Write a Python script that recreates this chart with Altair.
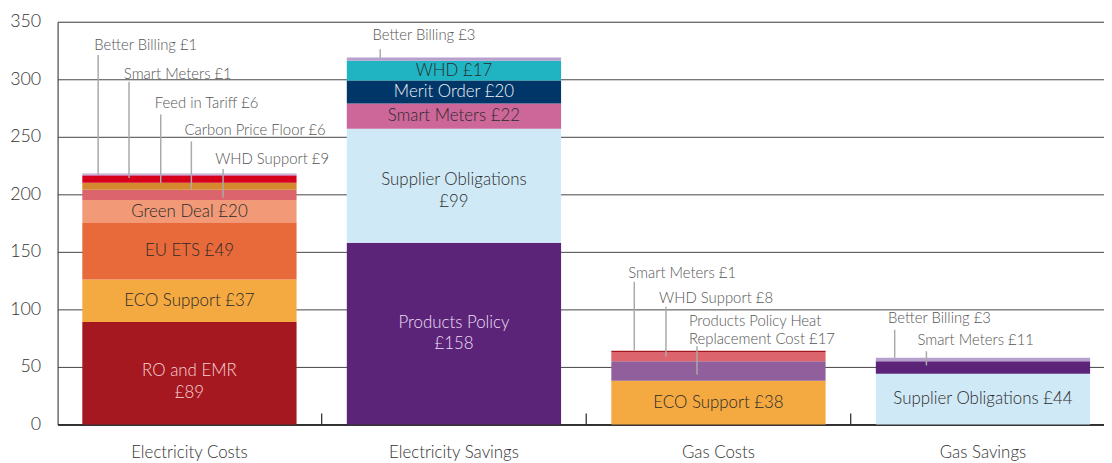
import altair as alt
import pandas as pd

# ---------------- data ----------------
categories = ["Electricity Costs", "Electricity Savings", "Gas Costs", "Gas Savings"]

ec_labels = ["RO and EMR", "ECO Support", "EU ETS", "Green Deal", "WHD Support",
             "Carbon Price Floor", "Feed in Tariff", "Smart Meters", "Better Billing"]
ec_values = [89, 37, 49, 20, 9, 6, 6, 1, 1]

es_labels = ["Products Policy", "Supplier Obligations", "Smart Meters", "Merit Order",
             "WHD", "Better Billing"]
es_values = [158, 99, 22, 20, 17, 3]

gc_labels = ["ECO Support", "Products Policy Heat Replacement Cost", "WHD Support", "Smart Meters"]
gc_values = [38, 17, 8, 1]

gs_labels = ["Supplier Obligations", "Smart Meters", "Better Billing"]
gs_values = [44, 11, 3]

y_ticks = [0, 50, 100, 150, 200, 250, 300, 350]

# ---------------- styles ----------------
seg_colors = {
    "Electricity Costs": ["#a51820", "#f4a941", "#e86a3a", "#f29a78", "#dc646c",
                          "#d5882e", "#d6001c", "#cf6c9c", "#bda3cf"],
    "Electricity Savings": ["#5b2479", "#d0e9f7", "#cd6699", "#003768", "#20b3c2", "#b7a0cd"],
    "Gas Costs": ["#f4a941", "#915f9b", "#dc646c", "#a51820"],
    "Gas Savings": ["#d0e9f7", "#5b2479", "#b7a0cd"],
}
DARK = "#2b2b2b"
inside = {  # (category, label) -> (two lines?, text colour, label shift in y units)
    ("Electricity Costs", "RO and EMR"): (True, "#f6d3d5", 2),
    ("Electricity Costs", "ECO Support"): (False, DARK, 0),
    ("Electricity Costs", "EU ETS"): (False, DARK, 0),
    ("Electricity Costs", "Green Deal"): (False, DARK, 0),
    ("Electricity Savings", "Products Policy"): (True, "#ecdff2", 9.5),
    ("Electricity Savings", "Supplier Obligations"): (True, DARK, 5),
    ("Electricity Savings", "Smart Meters"): (False, DARK, 0),
    ("Electricity Savings", "Merit Order"): (False, "#eef2f7", 0),
    ("Electricity Savings", "WHD"): (False, DARK, 0),
    ("Gas Costs", "ECO Support"): (False, DARK, 0),
    ("Gas Savings", "Supplier Obligations"): (False, DARK, 0),
}
# callout layout: (category, label) -> text x frac, leader x frac, text y, leader top, leader bottom
callouts = {
    ("Electricity Costs", "Better Billing"): (0.056, 0.074, 329.7, 321, 216.8),
    ("Electricity Costs", "Smart Meters"): (0.194, 0.218, 304.7, 297.8, 214.2),
    ("Electricity Costs", "Feed in Tariff"): (0.338, 0.366, 279.7, 269.4, 209.9),
    ("Electricity Costs", "Carbon Price Floor"): (0.477, 0.509, 255.6, 246, 204.7),
    ("Electricity Costs", "WHD Support"): (0.620, 0.657, 230.6, 222, 197),
    ("Electricity Savings", "Better Billing"): (0.120, 0.156, 338.4, 326, 317.9),
    ("Gas Costs", "Smart Meters"): (0.079, 0.107, 131.5, 124, 64.5),
    ("Gas Costs", "WHD Support"): (0.223, 0.255, 110.2, 102.4, 58.8),
    ("Gas Costs", "Products Policy Heat Replacement Cost"): (0.362, 0.40, 90.1, 67.9, 43.5),
    ("Gas Savings", "Better Billing"): (0.057, 0.088, 92.4, 82.3, 57.9),
    ("Gas Savings", "Smart Meters"): (0.194, 0.236, 73.1, 63.6, 51.3),
}
wrap = {("Gas Costs", "Products Policy Heat Replacement Cost"): "Products Policy Heat\nReplacement Cost"}

FONT = "Lato"
W, H = 1055, 406
P_IN, P_OUT, ALIGN = 0.19, 0.073, 0.64
STEP = W / (len(categories) - P_IN + 2 * P_OUT)
BW = STEP * (1 - P_IN)
TICK_FRAC = (BW + STEP * P_IN / 2) / BW

# ---------------- tables ----------------
series = {
    "Electricity Costs": (ec_labels, ec_values),
    "Electricity Savings": (es_labels, es_values),
    "Gas Costs": (gc_labels, gc_values),
    "Gas Savings": (gs_labels, gs_values),
}
rows, crow = [], []
for cat in categories:
    labels, values = series[cat]
    base = 0
    for i, (lab, v) in enumerate(zip(labels, values)):
        key = (cat, lab)
        r = dict(category=cat, label=lab, value=v, y0=base, y1=base + v,
                 mid=base + v / 2, color=seg_colors[cat][i])
        if key in inside:
            two, tc, shift = inside[key]
            r["text"] = lab + ("\n" if two else " ") + "£" + str(v)
            r["tcolor"] = tc
            r["ly"] = base + v / 2 + shift
        else:
            r["text"] = ""
            r["tcolor"] = DARK
            r["ly"] = base + v / 2
        rows.append(r)
        if key in callouts:
            tx, lx, ty, lt, lb = callouts[key]
            crow.append(dict(category=cat, text=wrap.get(key, lab) + " £" + str(v),
                             tx=tx, lx=lx, ty=ty, ltop=lt, lbot=lb))
        base += v
df = pd.DataFrame(rows)
cdf = pd.DataFrame(crow)
tdf = pd.DataFrame({"category": categories[:-1]})

xscale = alt.Scale(domain=categories, paddingInner=P_IN, paddingOuter=P_OUT, align=ALIGN)
yscale = alt.Scale(domain=[0, 350], nice=False)
offscale = alt.Scale(domain=[0, 1], range=[0, BW])

X = alt.X("category:N", scale=xscale, sort=categories,
          axis=alt.Axis(title=None, ticks=False, labelPadding=20, labelFontSize=17,
                        labelColor="#333", labelFont=FONT, labelFontWeight=300,
                        domainColor="#111", domainWidth=1.5, labelAngle=0))

bars = alt.Chart(df).mark_bar(stroke=None, width=BW).encode(
    x=X,
    y=alt.Y("y0:Q", scale=yscale,
            axis=alt.Axis(title=None, values=y_ticks, ticks=False, labelPadding=17,
                          labelFontSize=18, labelColor="#333", labelFont=FONT,
                          labelFontWeight=300,
                          grid=True, gridColor="#444", gridWidth=1,
                          domainColor="#333", domainWidth=1)),
    y2="y1:Q",
    color=alt.Color("color:N", scale=None),
)

inner = alt.Chart(df).transform_filter("datum.text != ''").mark_text(
    font=FONT, fontSize=17, fontWeight=300, baseline="middle", align="center",
    lineBreak="\n", lineHeight=22
).encode(
    x=alt.X("category:N", scale=xscale, sort=categories),
    y=alt.Y("ly:Q", scale=yscale),
    text="text:N",
    color=alt.Color("tcolor:N", scale=None),
)

leaders = alt.Chart(cdf).mark_rule(color="#aaaaaa", strokeWidth=1.5).encode(
    x=alt.X("category:N", scale=xscale, sort=categories),
    xOffset=alt.XOffset("lx:Q", scale=offscale),
    y=alt.Y("ltop:Q", scale=yscale),
    y2="lbot:Q",
)

ctext = alt.Chart(cdf).mark_text(
    font=FONT, fontSize=15, fontWeight=300, align="left", baseline="middle", color="#555",
    lineBreak="\n", lineHeight=18
).encode(
    x=alt.X("category:N", scale=xscale, sort=categories),
    xOffset=alt.XOffset("tx:Q", scale=offscale),
    y=alt.Y("ty:Q", scale=yscale),
    text="text:N",
)

ticks = alt.Chart(tdf).transform_calculate(b=str(TICK_FRAC)).mark_rule(
    color="#222", strokeWidth=1.2
).encode(
    x=alt.X("category:N", scale=xscale, sort=categories),
    xOffset=alt.XOffset("b:Q", scale=offscale),
    y=alt.value(H),
    y2=alt.value(H - 11),
)

chart = alt.layer(bars, inner, leaders, ctext, ticks).properties(
    width=W, height=H,
    padding={"left": 1, "top": 3, "right": 0, "bottom": 0},
).configure_view(stroke=None).configure(font=FONT, background="white")

chart.save("out.html", embed_options={"renderer": "svg", "actions": False})
